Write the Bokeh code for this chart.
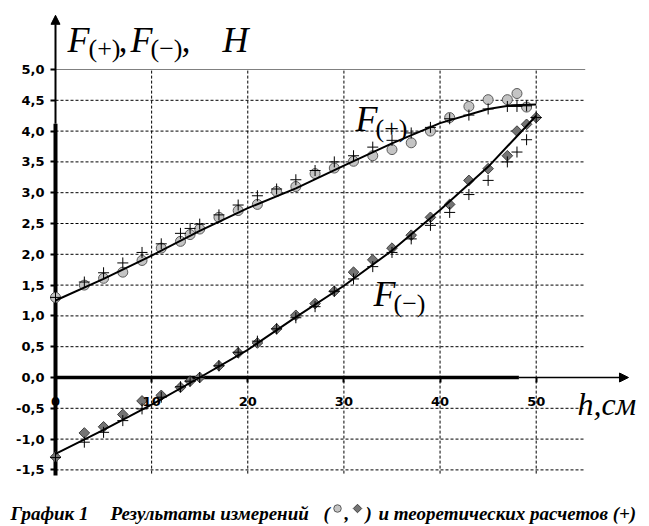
from bokeh.plotting import figure
from bokeh.models import LinearAxis, FixedTicker, Range1d, Arrow, NormalHead
from bokeh.core.properties import value
from bokeh.embed import file_html
from bokeh.resources import INLINE
import math

# ---------------- data ----------------
h_meas = [0, 3, 5, 7, 9, 11, 13, 14, 15, 17, 19, 21, 23, 25, 27, 29, 31, 33, 35, 37,
          39, 41, 43, 45, 47, 48, 49]
f_plus_meas = [1.30, 1.50, 1.61, 1.71, 1.90, 2.10, 2.21, 2.32, 2.41, 2.60, 2.71, 2.81,
               3.02, 3.10, 3.31, 3.40, 3.51, 3.60, 3.70, 3.81, 4.00, 4.22, 4.40, 4.51,
               4.51, 4.61, 4.39]
f_plus_theory = [1.30, 1.55, 1.70, 1.86, 2.03, 2.17, 2.34, 2.42, 2.49, 2.64, 2.80, 2.95,
                 3.06, 3.21, 3.36, 3.50, 3.60, 3.74, 3.85, 3.97, 4.06, 4.20, 4.26, 4.36,
                 4.40, 4.40, 4.41]

h_minus = [0, 3, 5, 7, 9, 11, 13, 14, 15, 17, 19, 21, 23, 25, 27, 29, 31, 33, 35, 37,
           39, 41, 43, 45, 47, 48, 49, 50]
f_minus_meas = [-1.29, -0.90, -0.80, -0.60, -0.38, -0.29, -0.16, -0.06, 0.00, 0.19, 0.40,
                0.56, 0.79, 1.01, 1.20, 1.40, 1.71, 1.91, 2.10, 2.31, 2.60, 2.81, 3.20,
                3.39, 3.60, 4.00, 4.11, 4.22]
f_minus_theory = [-1.30, -1.05, -0.89, -0.70, -0.51, -0.32, -0.15, -0.06, 0.00, 0.19, 0.41,
                  0.59, 0.79, 0.97, 1.15, 1.40, 1.60, 1.80, 2.03, 2.25, 2.47, 2.68, 2.97,
                  3.20, 3.50, 3.66, 3.86, 4.22]

h_fit_plus = [0, 5, 10, 15, 20, 25, 30, 35, 40, 45, 47.5, 50]
f_plus_fit = [1.25, 1.60, 1.98, 2.38, 2.75, 3.07, 3.44, 3.80, 4.13, 4.36, 4.42, 4.43]
h_fit_minus = [0, 5, 10, 15, 20, 25, 30, 35, 40, 45, 50]
f_minus_fit = [-1.24, -0.85, -0.44, 0.00, 0.45, 0.98, 1.49, 2.06, 2.72, 3.42, 4.25]

x_ticks = [0, 10, 20, 30, 40, 50]
x_tick_labels = ["0", "10", "20", "30", "40", "50"]
y_ticks = [-1.5, -1.0, -0.5, 0.0, 0.5, 1.0, 1.5, 2.0, 2.5, 3.0, 3.5, 4.0, 4.5, 5.0]
y_tick_labels = ["-1,5", "-1,0", "-0,5", "0,0", "0,5", "1,0", "1,5", "2,0", "2,5",
                 "3,0", "3,5", "4,0", "4,5", "5,0"]

# ---------------- layout helpers (screen px -> data) ----------------
W, H = 649, 526
OFF = 0
X0, KX = 55.0, 9.614    # screen px of h=0, px per unit h
Y0, KY = 377.0, 61.6    # screen px of F=0, px per unit F


def tx(px):
    return (px - X0) / KX


def ty(py):
    return (Y0 - py) / KY


p = figure(width=W, height=H,
           x_range=Range1d(tx(OFF), tx(OFF + W)),
           y_range=Range1d(ty(OFF + H), ty(OFF)),
           x_axis_type=None, y_axis_type=None,
           toolbar_location=None, output_backend="svg",
           min_border=0, outline_line_color=None)
p.background_fill_color = "white"

# ---------------- grid ----------------
x_end = 55.1
y_bot = -1.56
hgrid = [t for t in y_ticks if t not in (0.0, 5.0)]
p.segment(x0=[0] * len(hgrid), y0=hgrid, x1=[x_end] * len(hgrid), y1=hgrid,
          line_color="black", line_width=1, line_dash="3 2")
vgrid = [t for t in x_ticks if t != 0]
p.segment(x0=vgrid, y0=[y_bot] * len(vgrid), x1=vgrid, y1=[5.0] * len(vgrid),
          line_color="black", line_width=1, line_dash="3 2")
p.segment(x0=[0], y0=[5.0], x1=[x_end], y1=[5.0], line_color="#808080", line_width=1)

# ---------------- axes ----------------
common = dict(axis_line_color=None, major_tick_in=0, major_tick_out=5,
              major_tick_line_width=2, major_tick_line_color="black",
              minor_tick_line_color=None,
              major_label_text_font="DejaVu Sans", major_label_text_font_style="bold",
              major_label_text_font_size="13px", major_label_text_color="black")
xaxis = LinearAxis(fixed_location=0, ticker=FixedTicker(ticks=x_ticks),
                   major_label_overrides=dict(zip(x_ticks, x_tick_labels)),
                   major_label_standoff=14, **common)
p.add_layout(xaxis, "below")
yaxis = LinearAxis(fixed_location=0, ticker=FixedTicker(ticks=y_ticks),
                   major_label_overrides=dict(zip(y_ticks, y_tick_labels)),
                   major_label_standoff=6, **common)
p.add_layout(yaxis, "left")

# axis lines with arrows
p.line([0, 48.2], [0, 0], line_color="black", line_width=3.5)
p.add_layout(Arrow(end=NormalHead(size=9, fill_color="black", line_color="black", line_width=1),
                   x_start=48.2, y_start=0, x_end=59.6, y_end=0,
                   line_color="black", line_width=1.5))
p.line([0, 0], [-1.59, 4.12], line_color="black", line_width=4)
p.add_layout(Arrow(end=NormalHead(size=9, fill_color="black", line_color="black", line_width=1),
                   x_start=0, y_start=4.12, x_end=0, y_end=5.88,
                   line_color="black", line_width=2))

# ---------------- data marks ----------------
p.scatter(h_meas, f_plus_meas, marker="circle", size=10,
          fill_color="#c4c4c4", line_color="#5a5a5a", line_width=1)
p.scatter(h_minus, f_minus_meas, marker="square", size=7.5, angle=math.pi / 4,
          fill_color="#747474", line_color="#404040", line_width=1)
p.line(h_fit_plus, f_plus_fit, line_color="black", line_width=2)
p.line(h_fit_minus, f_minus_fit, line_color="black", line_width=2)
p.scatter(h_meas, f_plus_theory, marker="cross", size=11, line_color="black", line_width=1)
p.scatter(h_minus, f_minus_theory, marker="cross", size=11, line_color="black", line_width=1)

# ---------------- texts ----------------
serif = value("Liberation Serif")


def txt(px, py, s, size, style="italic", align="left", color="black"):
    p.text(x=[tx(px)], y=[ty(py)], text=[s], text_font=serif, text_font_style=style,
           text_font_size=size, text_align=align, text_baseline="alphabetic",
           text_color=color)


# axis title
txt(67, 39, "F", "36px")
txt(88, 48, "(+)", "26px", style="normal")
txt(118, 39, ",", "36px")
txt(130, 39, "F", "36px")
txt(150, 48, "(\u2212)", "26px", style="normal")
txt(181, 39, ",", "36px")
txt(222, 39, "H", "36px")

# curve labels
txt(355, 118, "F", "36px")
txt(375, 128, "(+)", "26px", style="normal")
txt(373, 293, "F", "36px")
txt(393, 303, "(\u2212)", "26px", style="normal")

# x axis title
txt(577, 403, "h,\u0441\u043c", "32px")

# caption
cap_size = "19px"
cap_base = 513
txt(10, cap_base, "График 1", cap_size, style="bold italic")
txt(110, cap_base, "Результаты измерений", cap_size, style="bold italic")
txt(323, cap_base, "(", cap_size, style="bold italic")
txt(344, cap_base, ",", cap_size, style="bold italic")
txt(365, cap_base, ")", cap_size, style="bold italic")
txt(378, cap_base, "и теоретических расчетов (+)", cap_size, style="bold italic")
p.scatter([tx(337)], [ty(508)], marker="circle", size=7.5,
          fill_color="#c4c4c4", line_color="#5a5a5a", line_width=1)
p.scatter([tx(357)], [ty(508)], marker="square", size=6, angle=math.pi / 4,
          fill_color="#747474", line_color="#404040", line_width=1)

open("out.html", "w").write(file_html(p, INLINE))
